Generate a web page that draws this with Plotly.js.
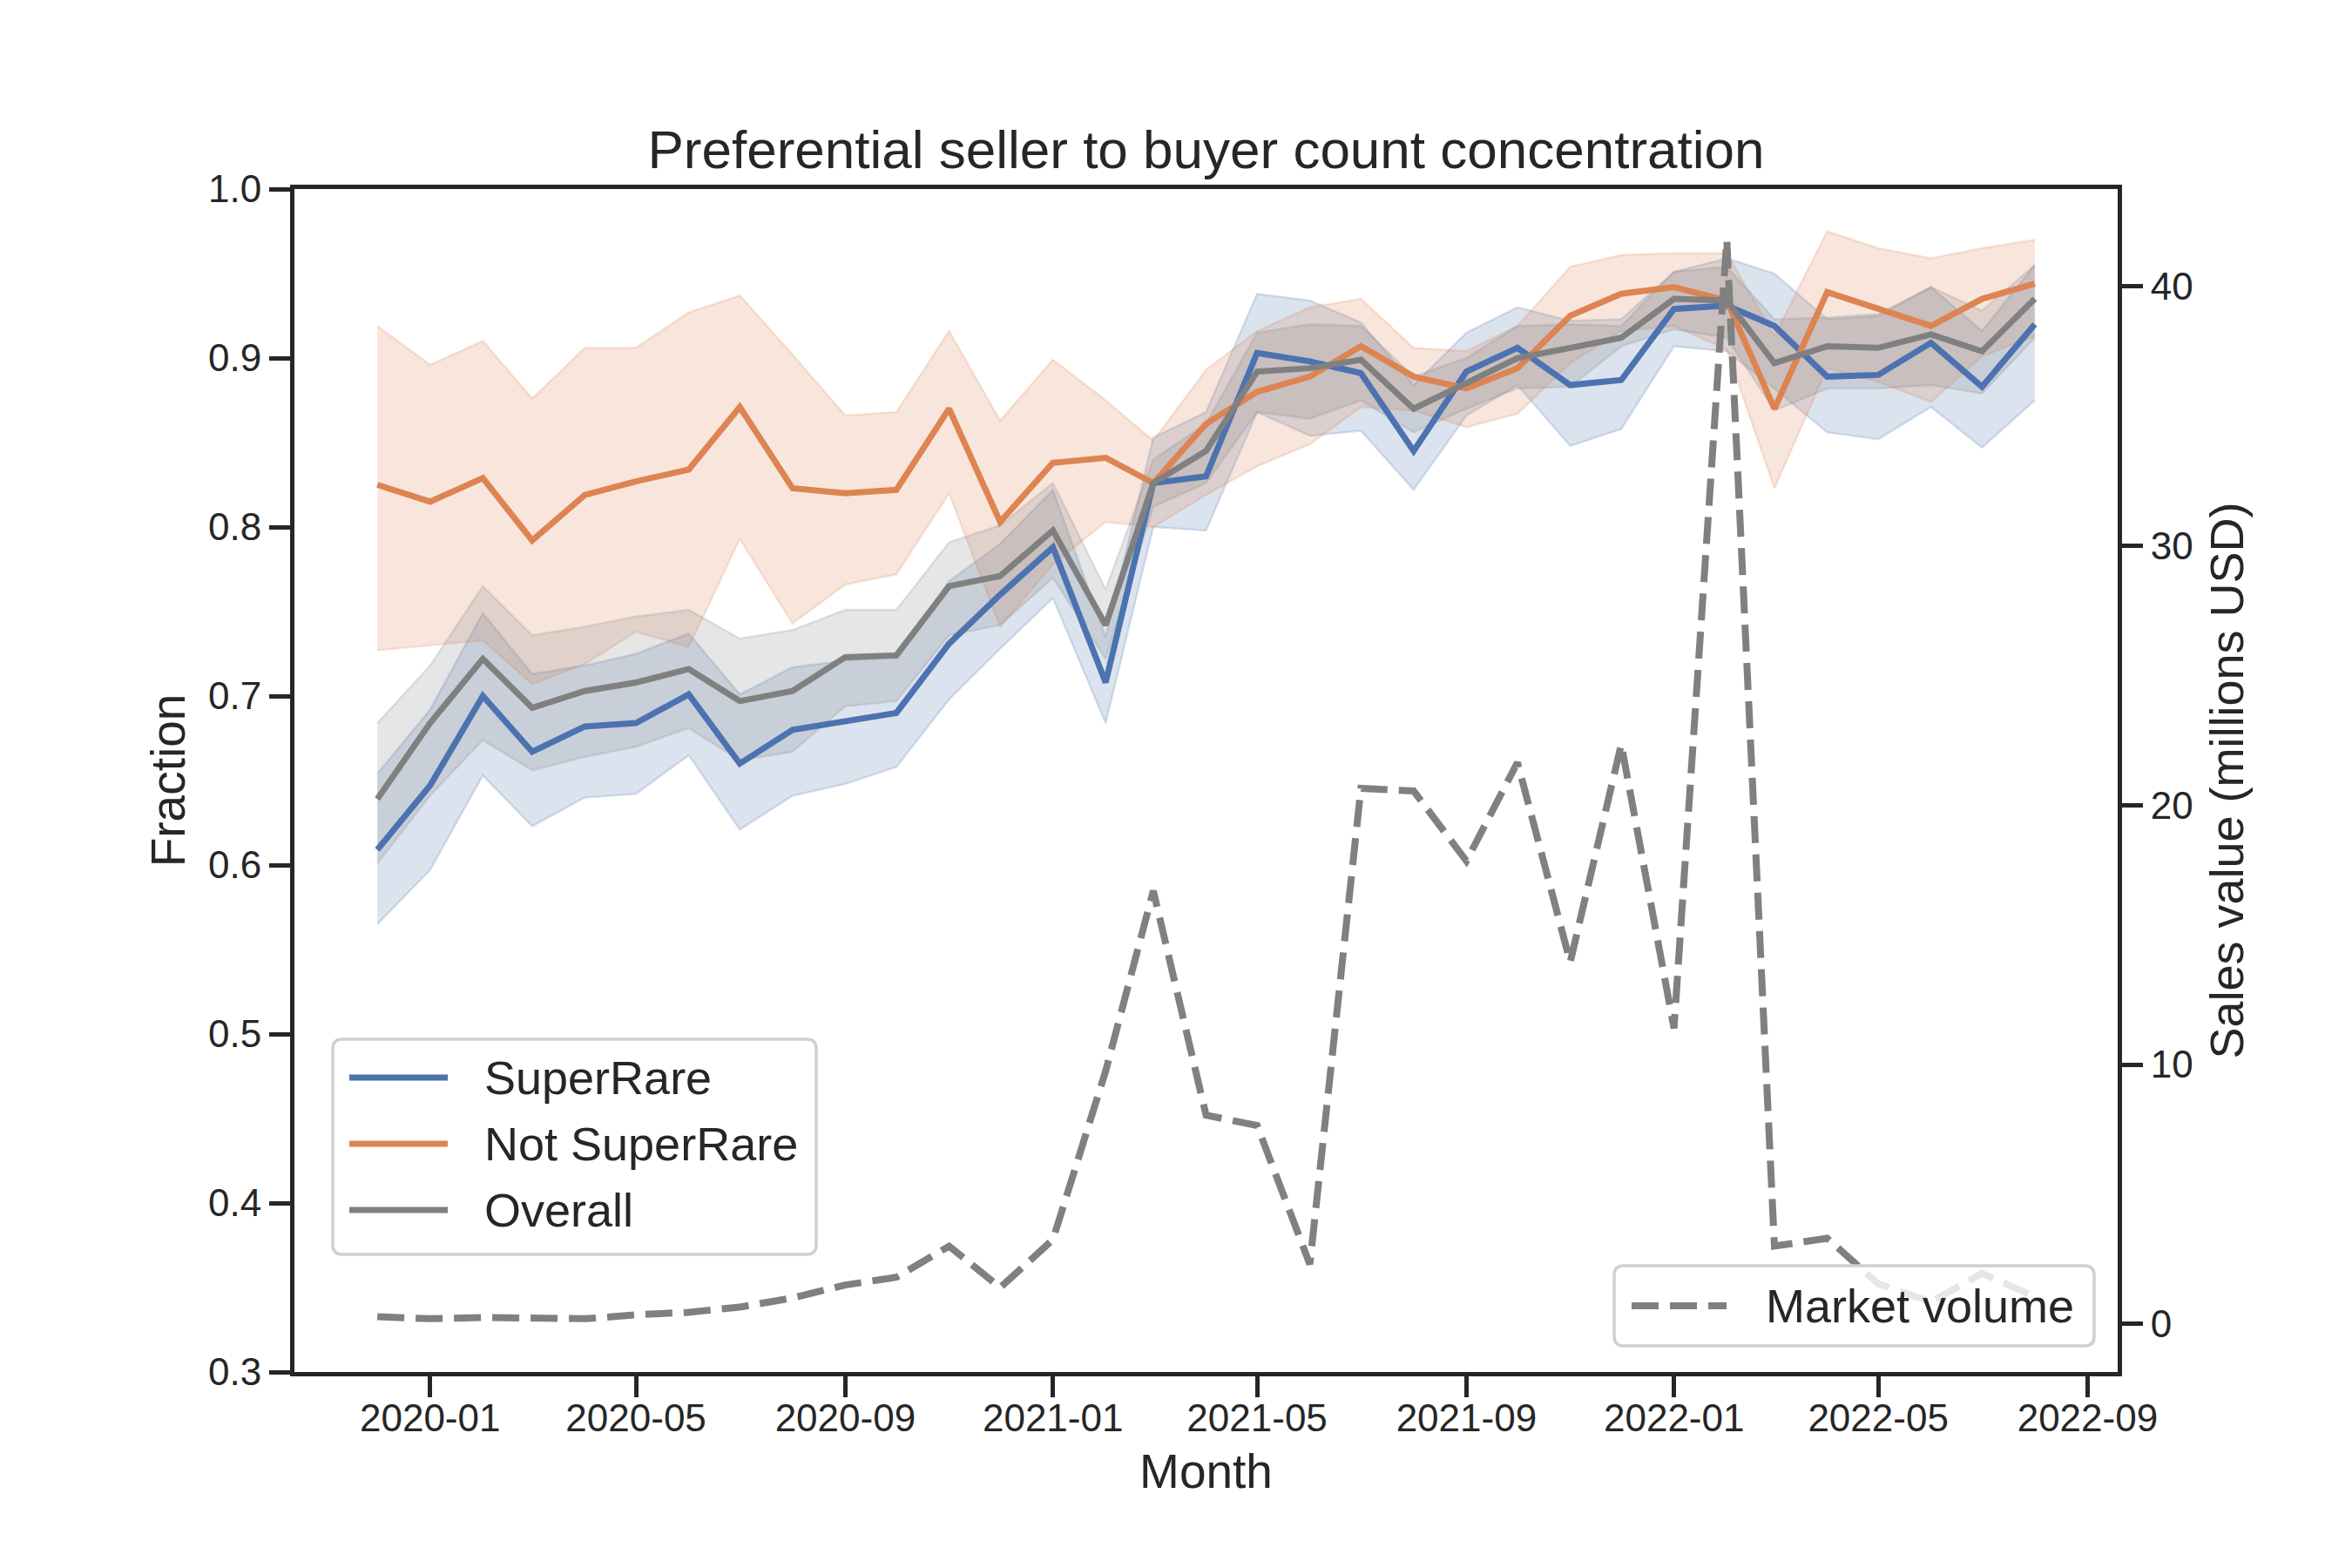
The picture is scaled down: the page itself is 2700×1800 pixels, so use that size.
<!DOCTYPE html>
<html>
<head>
<meta charset="utf-8">
<script src="https://cdn.plot.ly/plotly-3.0.1.min.js"></script>
<style>html,body{margin:0;padding:0;background:#fff;}</style>
</head>
<body>
<div id="chart" style="width:2700px;height:1800px;"></div>
<script>
// ---------------- data ----------------
const months = [
  "2019-12-01","2020-01-01","2020-02-01","2020-03-01","2020-04-01","2020-05-01","2020-06-01",
  "2020-07-01","2020-08-01","2020-09-01","2020-10-01","2020-11-01","2020-12-01","2021-01-01",
  "2021-02-01","2021-03-01","2021-04-01","2021-05-01","2021-06-01","2021-07-01","2021-08-01",
  "2021-09-01","2021-10-01","2021-11-01","2021-12-01","2022-01-01","2022-02-01","2022-03-01",
  "2022-04-01","2022-05-01","2022-06-01","2022-07-01","2022-08-01"
];

const superRare = [0.609,0.647,0.700,0.667,0.682,0.684,0.701,0.660,0.680,0.685,0.690,0.731,0.760,0.788,0.708,0.826,0.830,
                   0.903,0.898,0.891,0.845,0.892,0.906,0.884,0.887,0.929,0.931,0.919,0.889,0.890,0.909,0.883,0.920];
const superRareHi = [0.654,0.692,0.749,0.713,0.718,0.725,0.737,0.701,0.717,0.721,0.723,0.768,0.790,0.822,0.735,0.853,0.868,
                     0.938,0.934,0.921,0.884,0.915,0.930,0.922,0.923,0.951,0.959,0.950,0.923,0.925,0.942,0.916,0.955];
const superRareLo = [0.565,0.597,0.653,0.623,0.640,0.642,0.665,0.621,0.641,0.648,0.658,0.698,0.728,0.758,0.684,0.800,0.798,
                     0.868,0.854,0.857,0.822,0.866,0.884,0.848,0.858,0.907,0.904,0.882,0.856,0.852,0.871,0.847,0.875];

const notSuperRare = [0.825,0.815,0.829,0.792,0.819,0.827,0.834,0.871,0.823,0.820,0.822,0.870,0.803,0.838,0.841,0.826,0.861,
                      0.880,0.889,0.907,0.889,0.882,0.894,0.925,0.938,0.942,0.934,0.870,0.939,0.929,0.919,0.935,0.944];
const notSuperRareHi = [0.919,0.896,0.910,0.876,0.906,0.906,0.927,0.937,0.902,0.866,0.868,0.916,0.863,0.899,0.875,0.851,0.893,
                        0.916,0.930,0.935,0.906,0.904,0.919,0.954,0.961,0.962,0.962,0.913,0.975,0.965,0.959,0.965,0.970];
const notSuperRareLo = [0.727,0.730,0.733,0.707,0.719,0.738,0.729,0.793,0.743,0.766,0.772,0.820,0.741,0.778,0.803,0.800,0.819,
                        0.836,0.849,0.871,0.869,0.859,0.867,0.897,0.916,0.919,0.905,0.823,0.894,0.886,0.874,0.901,0.913];

const overall = [0.639,0.684,0.722,0.693,0.703,0.708,0.716,0.697,0.703,0.723,0.724,0.765,0.771,0.798,0.742,0.826,0.845,
                 0.892,0.894,0.899,0.870,0.885,0.900,0.906,0.912,0.935,0.934,0.897,0.907,0.906,0.914,0.904,0.935];
const overallHi = [0.684,0.718,0.765,0.736,0.741,0.747,0.751,0.734,0.739,0.751,0.751,0.791,0.801,0.826,0.763,0.840,0.861,
                   0.915,0.920,0.919,0.889,0.900,0.919,0.920,0.919,0.951,0.954,0.923,0.924,0.926,0.942,0.928,0.955];
const overallLo = [0.601,0.641,0.674,0.656,0.664,0.670,0.681,0.662,0.667,0.694,0.697,0.736,0.742,0.770,0.722,0.812,0.826,
                   0.868,0.864,0.875,0.856,0.870,0.882,0.883,0.907,0.917,0.912,0.869,0.882,0.882,0.884,0.879,0.912];

const marketVolume = [0.28,0.20,0.25,0.20,0.20,0.35,0.45,0.65,1.00,1.50,1.80,3.00,1.40,3.25,9.75,16.70,8.05,
                      7.65,2.30,20.65,20.55,17.85,21.65,13.95,22.35,11.40,41.80,3.00,3.30,1.55,0.85,1.95,1.05];

const xTickVals = ["2020-01-01","2020-05-01","2020-09-01","2021-01-01","2021-05-01","2021-09-01","2022-01-01","2022-05-01","2022-09-01"];
const xTickText = ["2020-01","2020-05","2020-09","2021-01","2021-05","2021-09","2022-01","2022-05","2022-09"];
const y2TickVals = [0,10,20,30,40];

const seriesNames = ["SuperRare","Not SuperRare","Overall"];
const volumeName = "Market volume";

// ---------------- style ----------------
const C_BLUE = "#4c72b0", C_ORANGE = "#dd8452", C_GREY = "#808080";
const F_BLUE = "rgba(76,114,176,0.2)", F_ORANGE = "rgba(221,132,82,0.2)", F_GREY = "rgba(128,128,128,0.2)";
const INK = "#262626";
const FONT = "Liberation Sans, Arial, Helvetica, sans-serif";

// plot area in pixels
const PL = 338, PR = 2431, PT = 217, PB = 1575;
const px = v => (v - PL) / (PR - PL);
const py = v => (PB - v) / (PB - PT);

function band(hi, lo, fill) {
  return [
    {x: months, y: hi, type: "scatter", mode: "lines", line: {color: fill, width: 2.5}, hoverinfo: "skip", showlegend: false},
    {x: months, y: lo, type: "scatter", mode: "lines", line: {color: fill, width: 2.5}, fill: "tonexty", fillcolor: fill, hoverinfo: "skip", showlegend: false}
  ];
}
function line(y, color, name) {
  return {x: months, y: y, type: "scatter", mode: "lines", name: name, line: {color: color, width: 7}, showlegend: false};
}

const traces = [
  ...band(superRareHi, superRareLo, F_BLUE),
  ...band(notSuperRareHi, notSuperRareLo, F_ORANGE),
  ...band(overallHi, overallLo, F_GREY),
  line(superRare, C_BLUE, seriesNames[0]),
  line(notSuperRare, C_ORANGE, seriesNames[1]),
  line(overall, C_GREY, seriesNames[2]),
  {x: months, y: marketVolume, type: "scatter", mode: "lines", name: volumeName, yaxis: "y2",
   line: {color: C_GREY, width: 8, dash: "31px,13px"}, showlegend: false}
];

// custom legend boxes (rounded rectangles)
function roundRect(x0, y0, x1, y1, r) {
  const P = (a, b) => px(a) + "," + py(b);
  return "M" + P(x0 + r, y0) + " L" + P(x1 - r, y0) + " Q" + P(x1, y0) + " " + P(x1, y0 + r) +
         " L" + P(x1, y1 - r) + " Q" + P(x1, y1) + " " + P(x1 - r, y1) +
         " L" + P(x0 + r, y1) + " Q" + P(x0, y1) + " " + P(x0, y1 - r) +
         " L" + P(x0, y0 + r) + " Q" + P(x0, y0) + " " + P(x0 + r, y0) + " Z";
}
const boxStyle = {type: "path", xref: "paper", yref: "paper", layer: "above",
                  fillcolor: "rgba(255,255,255,0.8)", line: {color: "#d0d0d0", width: 3.5}};
const shapes = [
  Object.assign({path: roundRect(382, 1193, 937, 1440, 11)}, boxStyle),
  Object.assign({path: roundRect(1853, 1453, 2404, 1545, 11)}, boxStyle)
];
const legRows = [1237, 1313, 1389];
const legColors = [C_BLUE, C_ORANGE, C_GREY];
const annotations = [];
legRows.forEach((r, i) => {
  shapes.push({type: "line", xref: "paper", yref: "paper", layer: "above",
               x0: px(401), x1: px(514), y0: py(r), y1: py(r),
               line: {color: legColors[i], width: 7}});
  annotations.push({xref: "paper", yref: "paper", x: px(554), y: py(r), xanchor: "left", yanchor: "middle",
                    text: seriesNames[i], showarrow: false, font: {family: FONT, size: 54, color: INK}});
});
shapes.push({type: "line", xref: "paper", yref: "paper", layer: "above",
             x0: px(1873), x1: px(1982), y0: py(1499), y1: py(1499),
             line: {color: C_GREY, width: 8, dash: "31px,13px"}});
annotations.push({xref: "paper", yref: "paper", x: px(2025), y: py(1499), xanchor: "left", yanchor: "middle",
                  text: volumeName, showarrow: false, font: {family: FONT, size: 54, color: INK}});

const axisCommon = {
  showgrid: false, zeroline: false, showline: true, linecolor: INK, linewidth: 5,
  ticks: "outside", ticklen: 24, tickwidth: 5, tickcolor: INK,
  tickfont: {family: FONT, size: 44, color: INK}
};

const layout = {
  width: 2700, height: 1800,
  margin: {l: PL, r: 2700 - PR, t: PT, b: 1800 - PB, pad: 0},
  paper_bgcolor: "#ffffff", plot_bgcolor: "#ffffff",
  font: {family: FONT, color: INK},
  showlegend: false,
  title: {text: "Preferential seller to buyer count concentration", font: {family: FONT, size: 62, color: INK},
          x: 0.5, xref: "paper", y: 1 - 171 / 1800, yref: "container", yanchor: "middle"},
  xaxis: Object.assign({}, axisCommon, {
    type: "date", range: ["2019-10-13 07:00", "2022-09-18 17:00"], mirror: true,
    tickmode: "array", tickvals: xTickVals, ticktext: xTickText, ticklabelstandoff: -14,
    title: {text: "Month", font: {family: FONT, size: 55, color: INK}, standoff: 20}
  }),
  yaxis: Object.assign({}, axisCommon, {
    range: [0.3, 1.0], tickmode: "linear", tick0: 0.3, dtick: 0.1, tickformat: ".1f",
    title: {text: "Fraction", font: {family: FONT, size: 55, color: INK}, standoff: 10}
  }),
  yaxis2: Object.assign({}, axisCommon, {
    overlaying: "y", side: "right", range: [-1.854, 43.76], tickmode: "array", tickvals: y2TickVals,
    title: {text: "Sales value (millions USD)", font: {family: FONT, size: 54, color: INK}, standoff: 22}
  }),
  shapes: shapes,
  annotations: annotations
};

Plotly.newPlot("chart", traces, layout, {staticPlot: true, displayModeBar: false});
</script>
</body>
</html>
